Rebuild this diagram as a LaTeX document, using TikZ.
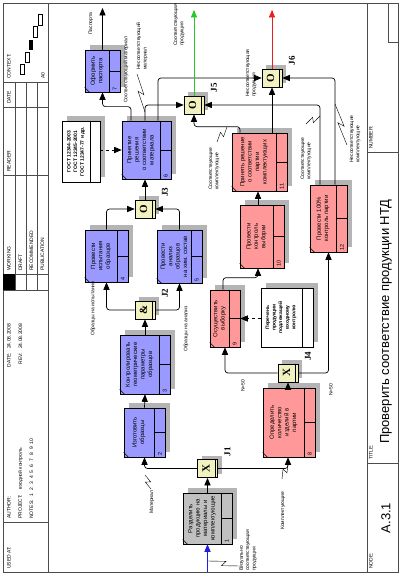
\documentclass[tikz,border=0pt]{standalone}
\usepackage{fontspec}
\setmainfont{Liberation Sans}
\newfontfamily\jfont{Liberation Serif}
\usetikzlibrary{positioning,calc,arrows,shadows}

\definecolor{uowblue}{RGB}{153,153,255}
\definecolor{uowpink}{RGB}{255,153,153}
\definecolor{uowgray}{RGB}{192,192,192}
\definecolor{juncfill}{RGB}{242,242,192}
\definecolor{shadowgrey}{RGB}{180,180,180}
\definecolor{inblue}{RGB}{30,30,230}
\definecolor{okgreen}{RGB}{40,200,40}
\definecolor{ngred}{RGB}{235,30,30}

\tikzset{
  frame/.style={line width=.5pt, draw=black!70},
  uowbox/.style={draw, line width=.7pt, inner sep=0pt,
    drop shadow={shadow xshift=5pt, shadow yshift=5pt, fill=shadowgrey, opacity=1}},
  refbox/.style={draw, fill=white, line width=.7pt, inner sep=0pt,
    drop shadow={shadow xshift=5pt, shadow yshift=5pt, fill=shadowgrey, opacity=1}},
  jbox/.style={draw, fill=juncfill, line width=.8pt, minimum width=20pt, minimum height=18pt, inner sep=0pt,
    drop shadow={shadow xshift=4pt, shadow yshift=4pt, fill=shadowgrey, opacity=1}},
  boxtext/.style={rotate=90, align=center, inner sep=0pt, font=\fontsize{6}{7.4}\selectfont},
  reftext/.style={rotate=90, align=center, inner sep=0pt, font=\bfseries\fontsize{5}{6.6}\selectfont},
  numtext/.style={rotate=90, anchor=west, inner sep=0pt, font=\fontsize{5.5}{6}\selectfont},
  lbl/.style={rotate=90, anchor=west, align=left, inner sep=0pt, font=\fontsize{5}{6.4}\selectfont},
  hdr/.style={rotate=90, anchor=west, inner sep=0pt, font=\fontsize{5}{6}\selectfont},
  jsym/.style={rotate=90, inner sep=0pt, font=\jfont\bfseries\fontsize{11}{11}\selectfont},
  jlbl/.style={rotate=90, inner sep=0pt, font=\jfont\bfseries\fontsize{9}{9}\selectfont},
  conn/.style={->, line width=.7pt, rounded corners=3pt},
  refconn/.style={->, line width=.7pt, dashed},
  squig/.style={line width=.4pt}
}

% unit of work: name, cx, cy, width, height, colour, number, text
\newcommand{\uow}[8]{%
  \node[uowbox, fill=#6, minimum width=#4pt, minimum height=#5pt] (#1) at (#2,#3) {};
  \draw[line width=.6pt] ([xshift=-11pt]#1.north east) -- ([xshift=-11pt]#1.south east);
  \draw[line width=.6pt] ([xshift=-11pt]#1.east) -- (#1.east);
  \draw[line width=.5pt] ([yshift=5pt]#1.south west) -- ([xshift=5pt]#1.south west);
  \node[numtext] (#1n) at ([xshift=-5.5pt, yshift=2pt]#1.south east) {#7};
  \node[boxtext] (#1t) at ([xshift=-5.5pt]#1.center) {#8};
}
% junction: name, cx, cy, symbol, label
\newcommand{\junc}[5]{%
  \node[jbox] (#1) at (#2,#3) {};
  \draw[line width=.6pt] ([xshift=-3pt]#1.north east) -- ([xshift=-3pt]#1.south east);
  \node[jsym] (#1s) at ([xshift=-1.5pt]#1.center) {#4};
  \node[jlbl] (#1l) at ([xshift=20pt, yshift=17pt]#1.center) {#5};
}
% squiggle from a label to its arrow
\newcommand{\zig}[2]{%
  \draw[squig] (#1) -- ($(#1)!.56!(#2)!2.5pt!90:(#2)$) -- ($(#1)!.44!(#2)!2.5pt!-90:(#2)$) -- (#2);
}

\begin{document}
\begin{tikzpicture}[x=1pt, y=-1pt, >=triangle 45]
\useasboundingbox (0,0) rectangle (401,575);
\fill[white] (0,0) rectangle (401,575);

% frame
\draw[frame] (3,3) rectangle (398,572);
\draw[frame] (48,3) -- (48,572);
\draw[frame] (367,3) -- (367,572);
\foreach \yy in {82,107,175,274,290,522} \draw[frame] (3,\yy) -- (48,\yy);
\foreach \xx in {15,26,37} \draw[frame] (\xx,82) -- (\xx,290);
\fill (3,274) rectangle (15,290);
\draw[frame] (367,152) -- (398,152);
\draw[frame] (367,463) -- (398,463);
\draw[frame] (388,3) -- (388,42) -- (398,42);
% context
\draw[line width=.4pt] (20,64) rectangle (24,74);
\draw[line width=.4pt] (25,52) rectangle (29,62);
\fill (29,40) rectangle (33,50);
\draw[line width=.4pt] (33,26) rectangle (37,37);
\draw[line width=.4pt] (38,14) rectangle (42,25);

\node[hdr] (usedat) at (9,569) {USED AT:};
\node[hdr] (author) at (9,519) {AUTHOR:};
\node[hdr] (project) at (20.5,519) {PROJECT:\hspace{5pt}входной контроль};
\node[hdr] (notes) at (31.5,519) {NOTES:\hspace{4pt}1\hspace{3pt}2\hspace{3pt}3\hspace{3pt}4\hspace{3pt}5\hspace{3pt}6\hspace{3pt}7\hspace{3pt}8\hspace{3pt}9\hspace{3pt}10};
\node[hdr] (date1) at (9,370) {\makebox[17pt][r]{DATE:}\hspace{4pt}24.08.2008};
\node[hdr] (rev) at (20.5,370) {\makebox[17pt][r]{REV:}\hspace{4pt}24.08.2008};
\node[hdr] (working) at (9,271) {WORKING};
\node[hdr] (draft) at (20.5,271) {DRAFT};
\node[hdr] (recom) at (31.5,271) {RECOMMENDED};
\node[hdr] (publ) at (42.5,271) {PUBLICATION};
\node[hdr] (reader) at (9,172) {READER};
\node[hdr] (date2) at (9,104) {DATE};
\node[hdr] (context) at (9,79) {CONTEXT:};
\node[hdr] (azero) at (43,79) {A0};
\node[hdr] (nodelbl) at (371,569) {NODE:};
\node[hdr] (titlelbl) at (371,460) {TITLE:};
\node[hdr] (numberlbl) at (371,149) {NUMBER:};
\node[rotate=90, inner sep=0pt, font=\fontsize{13}{13}\selectfont] (nodeno) at (386,518) {A.3.1};
\node[rotate=90, anchor=west, inner sep=0pt, font=\fontsize{13}{13}\selectfont] (title) at (386,444) {Проверить соответствие продукции НТД};

% units of work
\uow{b1}{207.5}{518.5}{49}{51}{uowgray}{1}{Разделить\\продукцию на\\материалы и\\комплектующие}
\uow{b2}{144.5}{432.5}{41}{49}{uowblue}{2}{Изготовить\\образцы}
\uow{b3}{145}{364.5}{50}{59}{uowblue}{3}{Контролировать\\геометрические\\параметры\\образцов}
\uow{b4}{106.5}{256}{43}{52}{uowblue}{4}{Провести\\испытания\\образцов}
\uow{b5}{179.5}{256.5}{45}{53}{uowblue}{5}{Провести\\анализ\\образцов\\на хим. состав}
\uow{b6}{146.5}{150}{49}{58}{uowblue}{6}{Принятие\\решения\\о соответствии\\материала}
\uow{b7}{102.5}{71}{35}{42}{uowblue}{7}{Оформить\\паспорта}
\uow{b8}{289}{422.5}{52}{69}{uowpink}{8}{Определить\\количество\\изделий в\\партии}
\uow{b9}{225}{318.5}{30}{57}{uowpink}{9}{Осуществить\\выборку}
\uow{b10}{262}{236.5}{44}{63}{uowpink}{10}{Провести\\контроль\\выборки}
\uow{b11}{259.5}{162}{55}{58}{uowpink}{11}{Принять решение\\о соответствии\\партии\\комплектующих}
\uow{b12}{328.5}{218.5}{37}{67}{uowpink}{12}{Провести 100\%\\контроль партии}

% referents
\node[refbox, minimum width=38pt, minimum height=61pt] (gost) at (81,151.5) {};
\draw[line width=.6pt] ([xshift=-10pt]gost.north east) -- ([xshift=-10pt]gost.south east);
\node[reftext] (gostt) at ([xshift=-5pt]gost.center) {ГОСТ 12344-2003\\ГОСТ 12345-2001\\ГОСТ 12347-77 и др.};
\node[refbox, minimum width=52pt, minimum height=59pt] (perech) at (287,317.5) {};
\draw[line width=.6pt] ([xshift=-11pt]perech.north east) -- ([xshift=-11pt]perech.south east);
\node[reftext] (percht) at ([xshift=-6pt]perech.center) {Перечень\\продукции\\подлежащей\\входному\\контролю};

% junctions
\junc{j1}{207.5}{468.5}{X}{J1}
\junc{j2}{145}{310}{\&}{J2}
\junc{j3}{145}{209}{O}{J3}
\junc{j4}{288}{373}{X}{J4}
\junc{j5}{194}{105}{O}{J5}
\junc{j6}{272}{78}{O}{J6}

% connectors
\coordinate (in1) at (207.5,572);
\draw[conn, color=inblue] (in1) -- (b1.south);
\draw[conn] (b1.north) -- (j1.south);
\draw[conn] (j1.west) -| (b2.south);
\draw[conn] (j1.east) -| ([xshift=-1pt]b8.south);
\draw[conn] (b2.north) -- (b3.south);
\draw[conn] (b3.north) -- (j2.south);
\draw[conn] (j2.west) -| (b4.south);
\draw[conn] (j2.east) -| (b5.south);
\draw[conn] (b4.north) |- (j3.west);
\draw[conn] (b5.north) |- (j3.east);
\draw[conn] (j3.north) -- (j3.north |- b6.south);
\draw[refconn] (b6.west -| gost.east) -- (b6.west);
\draw[conn] ([xshift=-15.5pt]b6.north) -- ++(0,-14) -| (b7.south);
\coordinate (pasp) at (102.5,8);
\draw[conn] (b7.north) -- (pasp);
\draw[conn] ([xshift=-1.5pt]b6.north) |- (j5.west);
\draw[conn] ([xshift=11.5pt]b6.north) |- (j6.west);
\coordinate (okout) at (194,10);
\draw[conn, color=okgreen] (j5.north) -- (okout);
\coordinate (ngout) at (272,10);
\draw[conn, color=ngred] (j6.north) -- (ngout);
\draw[conn] ([xshift=-19.5pt]b11.north) -- ++(0,-6) -| (j5.south);
\draw[conn] (j6.south |- b11.north) -- (j6.south);
\draw[conn] ([xshift=-8.5pt]b12.north) |- (j5.east);
\draw[conn] ([xshift=6.5pt]b12.north) |- (j6.east);
\draw[conn] ([xshift=-4pt]b10.north) -- ([xshift=-4pt]b10.north |- b11.south);
\draw[conn] ([xshift=-1pt]b8.north) -- (j4.south);
\draw[conn] (j4.west) -| (b9.south);
\draw[conn] (j4.east) -| (b12.south);
\draw[conn] ([xshift=-2pt]b9.north) -- ++(0,-12) -| ([xshift=-4pt]b10.south);
\draw[refconn] (b9.east -| perech.west) -- (b9.east);

% arrow labels
\node[lbl] (lvis) at (248,571) {Визуально\\соответствующая\\продукция};
\node[lbl] (lmat) at (152,514) {Материал};
\node[lbl] (lkomp) at (283,530) {Комплектующие};
\node[lbl] (lisp) at (93,336) {Образцы на испытания};
\node[lbl] (lan) at (186,352) {Образцы на анализ};
\node[lbl] (lpasp) at (91,35) {Паспорта};
\node[lbl] (lsmat) at (126,103) {Соответствующий материал};
\node[lbl] (lnmat) at (142,70) {Несоответствующий\\материал};
\node[lbl] (lsprod) at (179,46) {Соответствующая\\продукция};
\node[lbl] (lnprod) at (251,97) {Несоответствующая\\продукция};
\node[lbl] (lskomp) at (214,190) {Соответствующие\\комплектующие};
\node[lbl] (lskomp2) at (306,180) {Соответствующие\\комплектующие};
\node[lbl] (lnkomp) at (355,163) {Несоответствующие\\комплектующие};
\node[lbl] (ln1) at (243,392) {N=50};
\node[lbl] (ln2) at (331,396) {N=50};

% squiggles
\zig{240,566}{207.5,561}
\zig{151,489}{145,475}
\zig{282,479}{288,463}
\zig{137,74}{145,112}
\zig{217,142}{227,127}
\zig{306,124}{320,116}
\zig{347,145}{335,104}
\end{tikzpicture}
\end{document}
